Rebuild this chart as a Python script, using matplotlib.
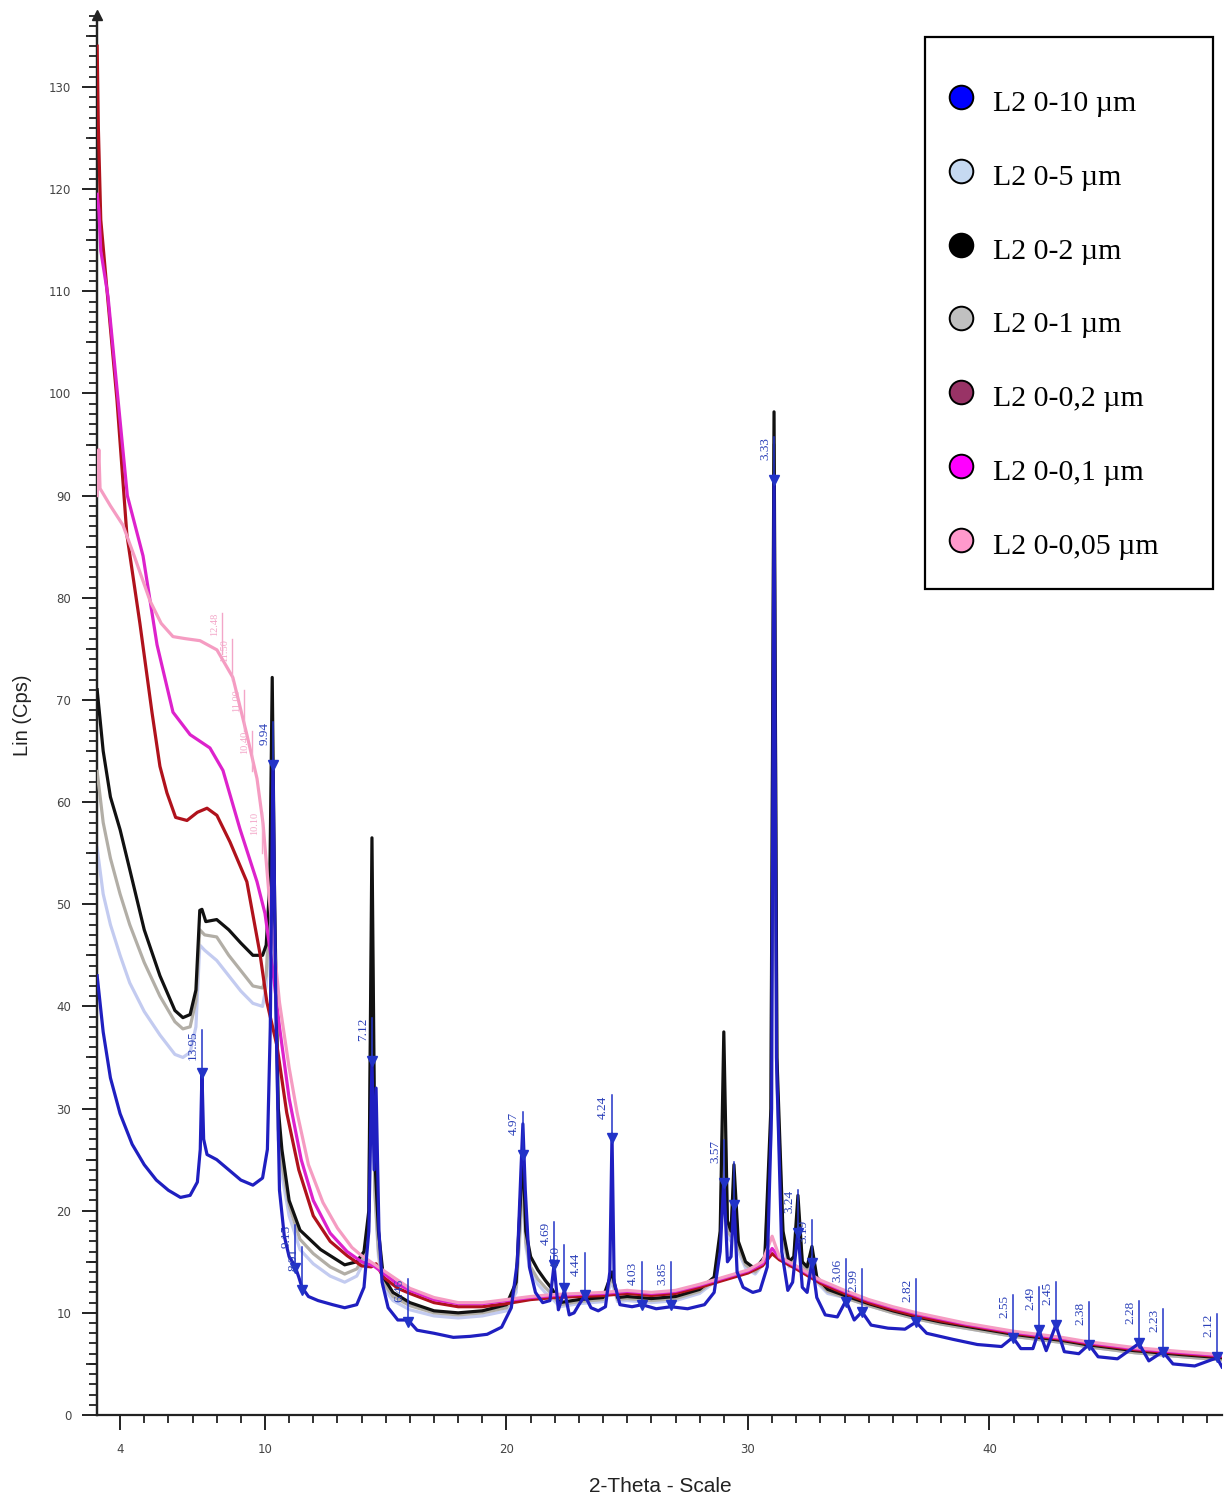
import matplotlib
matplotlib.use("Agg")
import matplotlib.pyplot as plt
from matplotlib.lines import Line2D
from matplotlib.patches import Rectangle
from matplotlib.ticker import MultipleLocator, FixedLocator

# ---------------- data ----------------
series_names = ["L2 0-10 µm", "L2 0-5 µm", "L2 0-2 µm", "L2 0-1 µm",
                "L2 0-0,2 µm", "L2 0-0,1 µm", "L2 0-0,05 µm"]
legend_colors = ["#0000ff", "#c6d9f1", "#000000", "#c0c0c0",
                 "#993366", "#ff00ff", "#ff99cc"]
line_colors = ["#1f1fc0", "#c3cbf0", "#111111", "#b2aea6",
               "#b0121c", "#dd22cc", "#f59cc2"]

# L2 0-10 µm
tt_10 = [3.05, 3.3, 3.6, 4.0, 4.5, 5.0, 5.5, 6.0, 6.5, 6.9, 7.2, 7.32, 7.39, 7.46, 7.6,
         8.0, 8.5, 9.0, 9.5, 9.9, 10.1, 10.22, 10.33, 10.45, 10.6, 10.8, 11.0, 11.24,
         11.4, 11.53, 11.8, 12.2, 12.8, 13.3, 13.8, 14.1, 14.3, 14.43, 14.52, 14.6,
         14.72, 14.85, 15.1, 15.5, 15.92, 16.3, 17.0, 17.8, 18.5, 19.2, 19.8, 20.2,
         20.45, 20.6, 20.68, 20.78, 20.95, 21.2, 21.5, 21.8, 21.97, 22.15, 22.4, 22.6,
         22.8, 23.0, 23.25, 23.5, 23.8, 24.1, 24.28, 24.37, 24.46, 24.7, 25.2, 25.61,
         26.2, 26.81, 27.5, 28.2, 28.6, 28.85, 29.0, 29.15, 29.3, 29.42, 29.55, 29.8,
         30.2, 30.5, 30.8, 30.98, 31.08, 31.18, 31.4, 31.65, 31.85, 32.07, 32.25, 32.45,
         32.65, 32.85, 33.2, 33.7, 34.06, 34.4, 34.72, 35.1, 35.8, 36.5, 36.96, 37.4,
         38.5, 39.5, 40.5, 40.97, 41.3, 41.8, 42.05, 42.35, 42.75, 43.1, 43.7, 44.12,
         44.5, 45.3, 46.19, 46.6, 47.18, 47.6, 48.5, 49.42, 49.63]
cps_10 = [43.0, 37.5, 33.0, 29.5, 26.5, 24.5, 23.0, 22.0, 21.3, 21.5, 22.8, 26.0, 33.5, 27.0, 25.5,
          25.0, 24.0, 23.0, 22.5, 23.2, 26.0, 38.0, 64.0, 40.0, 22.0, 17.5, 15.5, 14.6,
          13.5, 12.5, 11.6, 11.2, 10.8, 10.5, 10.8, 12.5, 18.0, 34.7, 24.0, 32.0,
          18.0, 13.0, 10.5, 9.3, 9.3, 8.3, 8.0, 7.6, 7.7, 7.9, 8.6, 10.5,
          15.0, 24.0, 28.5, 22.0, 14.5, 12.0, 11.0, 11.2, 14.7, 10.3, 12.2, 9.8,
          10.0, 10.8, 11.7, 10.5, 10.2, 10.6, 14.0, 27.5, 13.0, 10.8, 10.6, 10.8,
          10.4, 10.6, 10.4, 10.8, 12.0, 16.0, 23.0, 15.0, 15.5, 21.0, 14.0, 12.5,
          12.0, 12.2, 14.5, 30.0, 92.0, 35.0, 16.0, 12.2, 13.0, 18.0, 12.5, 12.0,
          15.0, 11.5, 9.8, 9.6, 11.2, 9.3, 10.1, 8.8, 8.5, 8.4, 9.1, 8.0,
          7.4, 6.9, 6.7, 7.6, 6.5, 6.5, 8.3, 6.3, 8.8, 6.2, 6.0, 6.9,
          5.7, 5.5, 7.0, 5.3, 6.2, 5.0, 4.8, 5.6, 4.7]

# L2 0-5 µm
tt_5 = [3.05, 3.3, 3.6, 4.0, 4.4, 5.0, 5.65, 6.27, 6.6, 6.9, 7.14, 7.3, 7.5, 8.0, 8.5,
        9.0, 9.5, 9.9, 10.05, 10.2, 10.3, 10.4, 10.55, 10.7, 11.0, 11.45, 12.0, 12.7,
        13.3, 13.8, 14.1, 14.3, 14.43, 14.55, 14.7, 14.9, 15.3, 16.0, 17.0, 18.0, 19.0,
        20.0, 20.4, 20.6, 20.68, 20.8, 21.0, 21.3, 21.6, 21.9, 22.2, 23.0, 24.0, 24.37,
        24.6, 25.0, 26.0, 27.0, 28.0, 28.6, 28.85, 29.0, 29.15, 29.3, 29.42, 29.6, 29.9,
        30.3, 30.7, 30.95, 31.08, 31.2, 31.45, 31.7, 31.9, 32.07, 32.25, 32.45, 32.65,
        32.85, 33.3, 34.0, 35.0, 36.0, 37.0, 38.0, 39.0, 40.0, 41.0, 42.0, 43.0, 44.0,
        45.0, 46.0, 47.0, 48.0, 49.63]
cps_5 = [55.5, 51.0, 48.0, 45.0, 42.3, 39.5, 37.2, 35.3, 35.0, 35.5, 38.0, 46.0, 45.5, 44.5, 43.0,
         41.5, 40.3, 40.0, 42.0, 48.0, 62.0, 46.0, 27.0, 23.5, 19.5, 16.2, 14.8, 13.6,
         13.0, 13.6, 15.0, 18.5, 47.0, 21.5, 15.5, 12.5, 11.2, 10.3, 9.7, 9.5, 9.7,
         10.2, 12.0, 19.0, 23.0, 16.5, 14.0, 12.8, 12.0, 11.4, 10.6, 10.9, 11.1, 13.0,
         11.1, 11.2, 11.0, 11.2, 11.9, 13.0, 16.5, 31.0, 17.5, 17.0, 22.0, 16.0, 14.4,
         13.8, 15.0, 27.0, 93.0, 32.0, 17.0, 14.5, 15.0, 20.0, 14.5, 14.0, 15.8,
         13.0, 11.9, 11.5, 10.7, 10.0, 9.4, 8.9, 8.5, 8.1, 7.7, 7.4, 7.1, 6.7,
         6.4, 6.1, 5.9, 5.7, 5.4]

# L2 0-2 µm
tt_2 = [3.05, 3.3, 3.6, 4.0, 4.4, 5.0, 5.65, 6.27, 6.6, 6.9, 7.14, 7.3, 7.39, 7.55, 8.0,
        8.5, 9.0, 9.5, 9.9, 10.05, 10.2, 10.3, 10.4, 10.55, 10.7, 11.0, 11.45, 12.3,
        13.3, 13.8, 14.1, 14.3, 14.43, 14.55, 14.7, 14.9, 15.3, 16.0, 17.0, 18.0, 19.0,
        20.0, 20.4, 20.6, 20.68, 20.8, 21.0, 21.3, 21.6, 21.9, 22.2, 23.0, 24.0, 24.37,
        24.6, 25.0, 26.0, 27.0, 28.0, 28.6, 28.85, 29.0, 29.15, 29.3, 29.42, 29.6, 29.9,
        30.3, 30.7, 30.95, 31.08, 31.2, 31.45, 31.7, 31.9, 32.07, 32.25, 32.45, 32.65,
        32.85, 33.3, 34.0, 35.0, 36.0, 37.0, 38.0, 39.0, 40.0, 41.0, 42.0, 43.0, 44.0,
        45.0, 46.0, 47.0, 48.0, 49.63]
cps_2 = [71.0, 65.0, 60.5, 57.3, 53.4, 47.5, 43.0, 39.6, 38.9, 39.2, 41.6, 49.4, 49.5, 48.3, 48.5,
         47.5, 46.2, 45.0, 45.0, 46.0, 52.0, 72.2, 50.0, 30.0, 26.0, 21.0, 18.1, 16.2,
         14.7, 15.0, 16.0, 20.0, 56.5, 25.0, 18.0, 13.5, 12.0, 11.0, 10.2, 10.0, 10.2,
         10.8, 13.0, 22.0, 26.0, 18.0, 15.5, 14.2, 13.2, 12.3, 11.0, 11.3, 11.5, 14.0,
         11.5, 11.6, 11.4, 11.6, 12.3, 13.5, 18.0, 37.5, 19.0, 18.0, 24.5, 17.0, 15.0,
         14.3, 15.5, 30.0, 98.2, 35.0, 18.0, 15.0, 15.5, 21.5, 15.0, 14.5, 16.5,
         13.5, 12.3, 11.7, 10.9, 10.2, 9.6, 9.1, 8.7, 8.3, 7.9, 7.6, 7.3, 6.9,
         6.6, 6.3, 6.1, 5.9, 5.6]

# L2 0-1 µm
tt_1 = [3.05, 3.3, 3.6, 4.0, 4.4, 5.0, 5.65, 6.27, 6.6, 6.9, 7.14, 7.3, 7.5, 8.0, 8.5,
        9.0, 9.5, 9.9, 10.05, 10.2, 10.3, 10.4, 10.55, 10.7, 11.0, 11.45, 12.0, 12.7,
        13.3, 13.8, 14.1, 14.3, 14.43, 14.55, 14.7, 14.9, 15.3, 16.0, 17.0, 18.0, 19.0,
        20.0, 20.4, 20.6, 20.68, 20.8, 21.0, 21.3, 21.6, 21.9, 22.2, 23.0, 24.0, 24.37,
        24.6, 25.0, 26.0, 27.0, 28.0, 28.6, 28.85, 29.0, 29.15, 29.3, 29.42, 29.6, 29.9,
        30.3, 30.7, 30.95, 31.08, 31.2, 31.45, 31.7, 31.9, 32.07, 32.25, 32.45, 32.65,
        32.85, 33.3, 34.0, 35.0, 36.0, 37.0, 38.0, 39.0, 40.0, 41.0, 42.0, 43.0, 44.0,
        45.0, 46.0, 47.0, 48.0, 49.63]
cps_1 = [63.0, 58.0, 54.5, 51.0, 48.0, 44.3, 41.0, 38.5, 37.8, 38.0, 40.5, 47.5, 47.0, 46.8, 45.0,
         43.5, 42.0, 41.8, 43.0, 50.0, 66.0, 48.0, 28.0, 24.5, 20.5, 17.2, 15.8, 14.5,
         13.8, 14.3, 15.5, 19.0, 50.0, 22.0, 16.0, 13.0, 11.6, 10.7, 10.0, 9.8, 10.0,
         10.5, 12.5, 20.0, 24.0, 17.0, 14.5, 13.3, 12.5, 11.8, 10.8, 11.1, 11.3, 13.5,
         11.3, 11.4, 11.2, 11.4, 12.1, 13.2, 17.0, 33.0, 18.0, 17.5, 23.0, 16.5, 14.7,
         14.0, 15.2, 28.0, 95.0, 33.0, 17.5, 14.7, 15.2, 20.5, 14.7, 14.2, 16.0,
         13.2, 12.1, 11.5, 10.7, 10.0, 9.4, 8.9, 8.5, 8.1, 7.7, 7.4, 7.1, 6.7,
         6.4, 6.1, 5.9, 5.7, 5.4]

# L2 0-0,2 µm
tt_02 = [3.05, 3.1, 3.2, 3.5, 3.87, 4.28, 4.82, 5.32, 5.65, 5.94, 6.3, 6.77, 7.2, 7.6, 8.01,
         8.55, 9.25, 9.79, 10.08, 10.5, 10.9, 11.4, 12.0, 12.7, 13.4, 14.0, 14.4, 14.6,
         14.9, 15.5, 16.0, 17.0, 18.0, 19.0, 20.0, 21.0, 22.0, 23.0, 24.0, 25.0, 26.0,
         27.0, 28.0, 29.0, 30.0, 30.6, 31.0, 31.3, 32.0, 33.0, 34.0, 35.0, 36.0, 37.0,
         38.0, 39.0, 40.0, 41.0, 42.0, 43.0, 44.0, 45.0, 46.0, 47.0, 48.0, 49.63]
cps_02 = [134.0, 126.0, 117.0, 109.0, 99.4, 86.2, 77.5, 68.8, 63.5, 60.9, 58.5, 58.2, 59.0, 59.4, 58.7,
          56.1, 52.2, 45.2, 40.4, 36.1, 29.6, 24.0, 19.5, 17.0, 15.6, 14.6, 14.5, 14.8,
          13.5, 12.4, 11.9, 11.0, 10.6, 10.6, 10.9, 11.3, 11.5, 11.6, 11.7, 11.9, 11.7,
          11.9, 12.5, 13.2, 13.9, 14.6, 15.8, 15.2, 14.3, 12.9, 11.9, 11.0, 10.3, 9.7,
          9.2, 8.8, 8.4, 8.0, 7.7, 7.4, 7.0, 6.7, 6.4, 6.2, 6.0, 5.7]

# L2 0-0,1 µm
tt_01 = [3.05, 3.12, 3.2, 3.5, 3.87, 4.3, 4.95, 5.53, 6.19, 6.9, 7.72, 8.26, 8.96, 9.67,
         10.0, 10.3, 10.6, 11.0, 11.5, 12.0, 12.7, 13.4, 14.0, 14.5, 15.0, 15.5, 16.0,
         17.0, 18.0, 19.0, 20.0, 21.0, 22.0, 23.0, 24.0, 25.0, 26.0, 27.0, 28.0, 29.0,
         30.0, 30.6, 31.0, 31.3, 32.0, 33.0, 34.0, 35.0, 36.0, 37.0, 38.0, 39.0, 40.0,
         41.0, 42.0, 43.0, 44.0, 45.0, 46.0, 47.0, 48.0, 49.63]
cps_01 = [119.5, 118.0, 114.0, 109.5, 100.5, 90.0, 84.1, 75.4, 68.8, 66.6, 65.3, 63.1, 57.4, 52.2,
          49.1, 44.0, 38.0, 31.0, 25.0, 21.0, 17.8, 16.0, 15.0, 14.6, 13.7, 12.8, 12.2,
          11.3, 10.9, 10.9, 11.2, 11.5, 11.7, 11.8, 11.9, 12.1, 11.9, 12.1, 12.7, 13.4,
          14.1, 14.8, 16.3, 15.4, 14.5, 13.1, 12.1, 11.2, 10.5, 9.9, 9.4, 8.9, 8.5,
          8.1, 7.8, 7.5, 7.1, 6.8, 6.5, 6.3, 6.1, 5.8]

# L2 0-0,05 µm
tt_005 = [3.05, 3.12, 3.17, 3.6, 4.12, 4.6, 5.24, 5.7, 6.19, 6.7, 7.31, 8.01, 8.67, 9.25,
          9.67, 9.92, 10.2, 10.6, 11.0, 11.33, 11.8, 12.4, 13.0, 13.6, 14.0, 14.5, 15.0,
          15.5, 16.0, 17.0, 18.0, 19.0, 20.0, 21.0, 22.0, 23.0, 24.0, 25.0, 26.0, 27.0,
          28.0, 29.0, 30.0, 30.6, 31.0, 31.3, 32.0, 33.0, 34.0, 35.0, 36.0, 37.0, 38.0,
          39.0, 40.0, 41.0, 42.0, 43.0, 44.0, 45.0, 46.0, 47.0, 48.0, 49.63]
cps_005 = [90.0, 94.5, 90.7, 89.0, 87.1, 84.0, 79.7, 77.5, 76.2, 76.0, 75.8, 74.9, 72.2, 66.6,
           62.3, 57.9, 50.0, 40.4, 34.0, 29.6, 24.5, 20.8, 18.3, 16.4, 15.6, 14.8, 14.0,
           13.2, 12.4, 11.5, 11.0, 11.0, 11.3, 11.6, 11.8, 11.9, 12.0, 12.2, 12.0, 12.2,
           12.8, 13.5, 14.2, 15.0, 17.5, 15.5, 14.6, 13.2, 12.2, 11.3, 10.6, 10.0, 9.5,
           9.0, 8.6, 8.2, 7.9, 7.6, 7.2, 6.9, 6.6, 6.4, 6.2, 5.9]

# blue d-spacing markers (label, 2-theta, intensity)
peak_d = ["13.95", "9.94", "9.15", "8.91", "7.12", "6.46", "4.97", "4.69", "4.50", "4.44",
          "4.24", "4.03", "3.85", "3.57", "", "3.33", "3.24", "3.19", "3.06", "2.99",
          "2.82", "2.55", "2.49", "2.45", "2.38", "2.28", "2.23", "2.12"]
peak_tt = [7.39, 10.33, 11.24, 11.53, 14.43, 15.92, 20.68, 21.97, 22.40, 23.25,
           24.37, 25.61, 26.81, 29.00, 29.42, 31.08, 32.07, 32.65, 34.06, 34.72,
           36.96, 40.97, 42.05, 42.75, 44.12, 46.19, 47.18, 49.42]
peak_cps = [33.5, 63.6, 14.4, 12.2, 34.7, 9.1, 25.5, 14.7, 12.4, 11.7,
            27.1, 10.8, 10.8, 22.7, 20.6, 91.5, 17.8, 14.9, 11.1, 10.1,
            9.1, 7.5, 8.3, 8.8, 6.9, 7.0, 6.2, 5.7]

# pink d-spacing markers of the 0-0,05 µm pattern
pink_d = ["12.48", "11.50", "11.00", "10.40", "10.10"]
pink_tt = [8.22, 8.63, 9.13, 9.46, 9.88]
pink_cps = [74.5, 72.0, 67.0, 63.0, 55.0]

x_ticks = [4, 10, 20, 30, 40]
y_ticks = list(range(0, 131, 10))
y_mid_ticks = list(range(5, 136, 10))

# ---------------- figure ----------------
W, H = 1227, 1502
fig = plt.figure(figsize=(W / 100, H / 100), dpi=100)
ax = fig.add_axes([97 / W, (H - 1415) / H, (1222 - 97) / W, (1415 - 15) / H])
xmin, xmax = 3.044, 49.63
ymin, ymax = 0, 137.05
ax.set_xlim(xmin, xmax)
ax.set_ylim(ymin, ymax)

series = {
    "L2 0-10 µm": (tt_10, cps_10),
    "L2 0-5 µm": (tt_5, cps_5),
    "L2 0-2 µm": (tt_2, cps_2),
    "L2 0-1 µm": (tt_1, cps_1),
    "L2 0-0,2 µm": (tt_02, cps_02),
    "L2 0-0,1 µm": (tt_01, cps_01),
    "L2 0-0,05 µm": (tt_005, cps_005),
}
draw_order = ["L2 0-5 µm", "L2 0-1 µm", "L2 0-2 µm", "L2 0-0,2 µm",
              "L2 0-0,1 µm", "L2 0-0,05 µm", "L2 0-10 µm"]
for i, name in enumerate(draw_order):
    tt, cps = series[name]
    col = line_colors[series_names.index(name)]
    ax.plot(tt, cps, color=col, lw=2.3, zorder=2 + i, solid_joinstyle="round")

# blue markers
blue_mk = "#2233c8"
for d, t, c in zip(peak_d, peak_tt, peak_cps):
    top = c + 4.2
    ax.plot([t, t], [c, top], color=blue_mk, lw=1.1, zorder=12)
    ax.plot([t], [c], marker="v", ms=7.5, color=blue_mk, zorder=13, clip_on=False)
    if d:
        ax.annotate(d, xy=(t, top), xytext=(-2, 0), textcoords="offset points",
                    rotation=90, ha="right", va="top", color="#2a3fb8",
                    fontsize=9.5, family="Liberation Serif", zorder=13)

pink_mk = "#f3a6c8"
for d, t, c in zip(pink_d, pink_tt, pink_cps):
    top = c + 4.0
    ax.plot([t, t], [c, top], color=pink_mk, lw=1.0, zorder=11)
    ax.annotate(d, xy=(t, top), xytext=(-2, 0), textcoords="offset points",
                rotation=90, ha="right", va="top", color=pink_mk,
                fontsize=7.5, family="Liberation Serif", zorder=11)

# axes styling
for s in ["top", "right"]:
    ax.spines[s].set_visible(False)
for s in ["left", "bottom"]:
    ax.spines[s].set_linewidth(1.6)
    ax.spines[s].set_color("#222222")

ax.xaxis.set_major_locator(FixedLocator(x_ticks))
ax.set_xticklabels([str(v) for v in x_ticks])
ax.xaxis.set_minor_locator(MultipleLocator(1))
ax.yaxis.set_major_locator(FixedLocator(y_ticks))
ax.set_yticklabels([str(v) for v in y_ticks])
ax.yaxis.set_minor_locator(MultipleLocator(1))
ax.tick_params(axis="both", which="major", direction="out", length=10.5, width=1.4,
               color="#222222", labelsize=8.5, labelcolor="#444444")
ax.tick_params(axis="both", which="minor", direction="out", length=5.5, width=1.3,
               color="#222222")
ax.tick_params(axis="y", which="major", pad=8)
ax.tick_params(axis="x", which="major", pad=10)

# medium ticks at the 5s on the y axis
sec = ax.secondary_yaxis("left")
sec.yaxis.set_major_locator(FixedLocator(y_mid_ticks))
sec.yaxis.set_minor_locator(FixedLocator([]))
sec.tick_params(axis="y", which="major", direction="out", length=8, width=1.3,
                color="#222222", labelleft=False)
sec.spines["left"].set_linewidth(1.6)
sec.spines["left"].set_color("#222222")

# arrow on top of y axis
ax.plot([xmin], [ymax], marker="^", ms=7, color="#222222", clip_on=False, zorder=20)

fig.text(22 / W, 1 - 715 / H, "Lin (Cps)", rotation=90, ha="center", va="center",
         fontsize=14.5, family="Liberation Sans", color="#222222")
fig.text(660 / W, 1 - 1487 / H, "2-Theta - Scale", ha="center", va="center",
         fontsize=15, family="Liberation Sans", color="#222222")

# legend box (drawn in figure coordinates)
fig.add_artist(Rectangle((925 / W, 1 - 589 / H), (1213 - 925) / W, (589 - 37) / H,
                         transform=fig.transFigure, fill=True, fc="white",
                         ec="black", lw=1.6, zorder=30))
row_y = [103, 177, 251, 324, 398, 472, 546]
for name, col, ry in zip(series_names, legend_colors, row_y):
    fig.add_artist(Line2D([961 / W], [1 - (ry - 6) / H], marker="o", ms=17,
                          mfc=col, mec="black", mew=1.4, transform=fig.transFigure,
                          zorder=31))
    fig.text(993 / W, 1 - (ry + 1) / H, name, ha="left", va="center", fontsize=21.5,
             family="Liberation Serif", color="black", zorder=31)

fig.savefig("out.png", dpi=100)
